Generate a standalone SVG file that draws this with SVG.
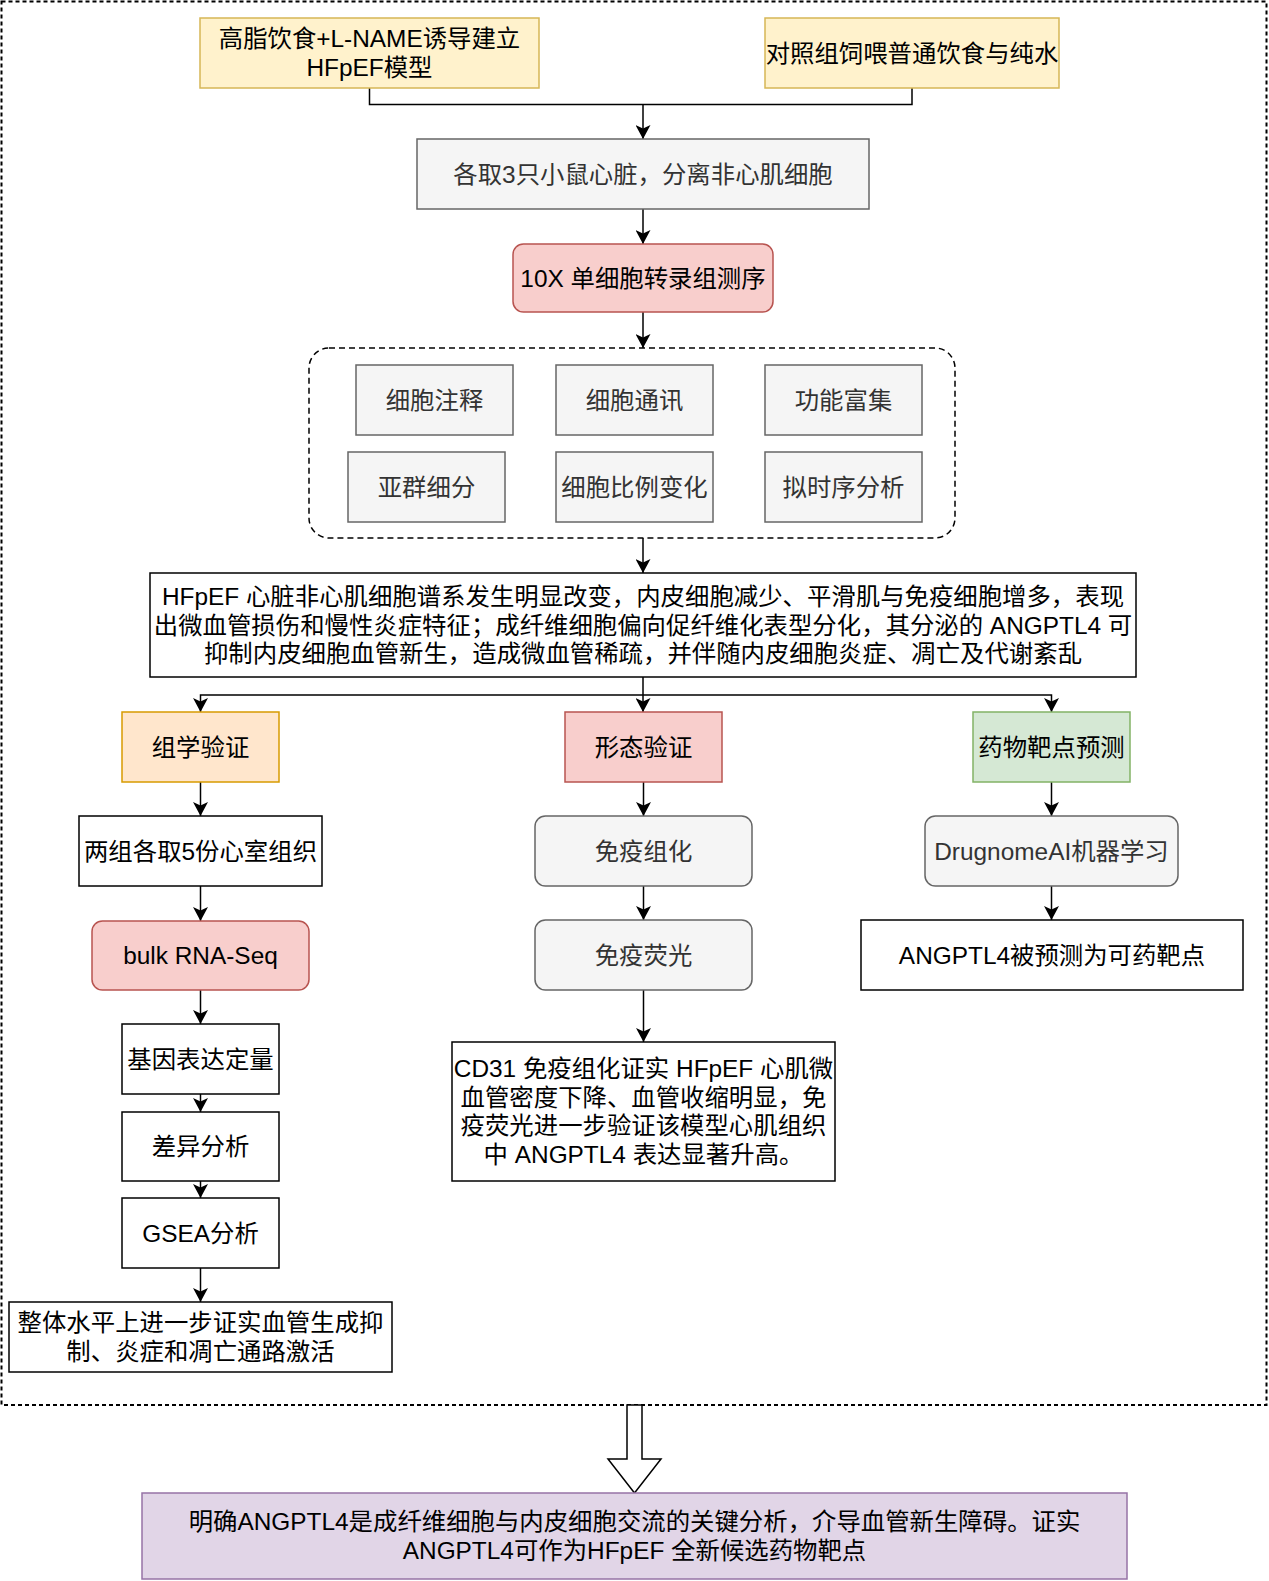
<svg xmlns="http://www.w3.org/2000/svg" width="1269" height="1581" viewBox="0 0 1269 1581">
<defs>
<style>
text{font-family:"Liberation Sans","Noto Sans CJK SC",sans-serif;font-size:24.4px;text-anchor:middle;dominant-baseline:central;fill:#000}
.g text,text.g{fill:#333333}
.yel{fill:#fff2cc;stroke:#d6b656;stroke-width:1.5}
.gray{fill:#f5f5f5;stroke:#666666;stroke-width:1.5}
.red{fill:#f8cecc;stroke:#b85450;stroke-width:1.5}
.org{fill:#ffe6cc;stroke:#d79b00;stroke-width:1.5}
.grn{fill:#d5e8d4;stroke:#82b366;stroke-width:1.5}
.pur{fill:#e1d5e7;stroke:#9673a6;stroke-width:1.5}
.wht{fill:#ffffff;stroke:#000000;stroke-width:1.5}
.edge{fill:none;stroke:#000;stroke-width:1.5}
</style>
<marker id="arr" markerUnits="userSpaceOnUse" markerWidth="15" markerHeight="15" refX="14" refY="7.5" orient="auto" viewBox="0 0 15 15">
<path d="M0,0 L14,7.5 L0,15 L3.5,7.5 Z" fill="#000"/>
</marker>
</defs>
<rect id="frame" x="1.5" y="1.5" width="1265" height="1403.5" fill="none" stroke="#000" stroke-width="2" stroke-dasharray="4 3"/>

<g id="connectors">
<path class="edge" d="M369.5,88 V104.5 H912 V88"/>
<path class="edge" d="M643,104.5 V139" marker-end="url(#arr)"/>
<path class="edge" d="M643,209 V244" marker-end="url(#arr)"/>
<path class="edge" d="M643,312 V348" marker-end="url(#arr)"/>
<path class="edge" d="M643,538 V573" marker-end="url(#arr)"/>
<path class="edge" d="M643,677 V712" marker-end="url(#arr)"/>
<path class="edge" d="M643,695 H200.5 V712" marker-end="url(#arr)"/>
<path class="edge" d="M643,695 H1051.5 V712" marker-end="url(#arr)"/>
<path class="edge" d="M200.5,782 V816" marker-end="url(#arr)"/>
<path class="edge" d="M200.5,886 V921" marker-end="url(#arr)"/>
<path class="edge" d="M200.5,990 V1024" marker-end="url(#arr)"/>
<path class="edge" d="M200.5,1094 V1112" marker-end="url(#arr)"/>
<path class="edge" d="M200.5,1181 V1198" marker-end="url(#arr)"/>
<path class="edge" d="M200.5,1268 V1302" marker-end="url(#arr)"/>
<path class="edge" d="M643.5,782 V816" marker-end="url(#arr)"/>
<path class="edge" d="M643.5,886 V920" marker-end="url(#arr)"/>
<path class="edge" d="M643.5,990 V1042" marker-end="url(#arr)"/>
<path class="edge" d="M1051.5,782 V816" marker-end="url(#arr)"/>
<path class="edge" d="M1051.5,886 V920" marker-end="url(#arr)"/>
<polygon points="627,1405 642,1405 642,1459 661,1459 634.5,1493 608,1459 627,1459" fill="#fff" stroke="#000" stroke-width="1.5"/>
</g>

<g id="n1"><rect class="yel" x="200" y="18" width="339" height="70"/><text x="369.5" y="38.6">高脂饮食+L-NAME诱导建立</text><text x="369.5" y="67.4">HFpEF模型</text></g>
<g id="n2"><rect class="yel" x="765" y="18" width="294" height="70"/><text x="912" y="53">对照组饲喂普通饮食与纯水</text></g>
<g id="n3" class="g"><rect class="gray" x="417" y="139" width="452" height="70"/><text x="643" y="174">各取3只小鼠心脏，分离非心肌细胞</text></g>
<g id="n4"><rect class="red" x="513" y="244" width="260" height="68" rx="10.5"/><text x="643" y="278">10X 单细胞转录组测序</text></g>

<g id="analysis">
<rect x="309" y="348" width="646" height="190" rx="20" fill="none" stroke="#000" stroke-width="1.5" stroke-dasharray="6 4"/>
<g id="a1" class="g"><rect class="gray" x="356" y="365" width="157" height="70"/><text x="434.5" y="400">细胞注释</text></g>
<g id="a2" class="g"><rect class="gray" x="556" y="365" width="157" height="70"/><text x="634.5" y="400">细胞通讯</text></g>
<g id="a3" class="g"><rect class="gray" x="765" y="365" width="157" height="70"/><text x="843.5" y="400">功能富集</text></g>
<g id="a4" class="g"><rect class="gray" x="348" y="452" width="157" height="70"/><text x="426.5" y="487">亚群细分</text></g>
<g id="a5" class="g"><rect class="gray" x="556" y="452" width="157" height="70"/><text x="634.5" y="487">细胞比例变化</text></g>
<g id="a6" class="g"><rect class="gray" x="765" y="452" width="157" height="70"/><text x="843.5" y="487">拟时序分析</text></g>
</g>

<g id="summary"><rect class="wht" x="150" y="573" width="986" height="104"/>
<text x="643" y="596.2">HFpEF 心脏非心肌细胞谱系发生明显改变，内皮细胞减少、平滑肌与免疫细胞增多，表现</text>
<text x="643" y="625">出微血管损伤和慢性炎症特征；成纤维细胞偏向促纤维化表型分化，其分泌的 ANGPTL4 可</text>
<text x="643" y="653.8">抑制内皮细胞血管新生，造成微血管稀疏，并伴随内皮细胞炎症、凋亡及代谢紊乱</text>
</g>

<g id="omics"><rect class="org" x="122" y="712" width="157" height="70"/><text x="200.5" y="747">组学验证</text></g>
<g id="morph"><rect class="red" x="565" y="712" width="157" height="70"/><text x="643.5" y="747">形态验证</text></g>
<g id="drug"><rect class="grn" x="973" y="712" width="157" height="70"/><text x="1051.5" y="747">药物靶点预测</text></g>

<g id="l1"><rect class="wht" x="79" y="816" width="243" height="70"/><text x="200.5" y="851">两组各取5份心室组织</text></g>
<g id="l2"><rect class="red" x="92" y="921" width="217" height="69" rx="10.5"/><text x="200.5" y="955.5">bulk RNA-Seq</text></g>
<g id="l3"><rect class="wht" x="122" y="1024" width="157" height="70"/><text x="200.5" y="1059">基因表达定量</text></g>
<g id="l4"><rect class="wht" x="122" y="1112" width="157" height="69"/><text x="200.5" y="1146.5">差异分析</text></g>
<g id="l5"><rect class="wht" x="122" y="1198" width="157" height="70"/><text x="200.5" y="1233">GSEA分析</text></g>
<g id="l6"><rect class="wht" x="9" y="1302" width="383" height="70"/><text x="200.5" y="1322.6">整体水平上进一步证实血管生成抑</text><text x="200.5" y="1351.4">制、炎症和凋亡通路激活</text></g>

<g id="m1" class="g"><rect class="gray" x="535" y="816" width="217" height="70" rx="10.5"/><text x="643.5" y="851">免疫组化</text></g>
<g id="m2" class="g"><rect class="gray" x="535" y="920" width="217" height="70" rx="10.5"/><text x="643.5" y="955">免疫荧光</text></g>
<g id="m3"><rect class="wht" x="452" y="1042" width="383" height="139"/>
<text x="643.5" y="1068.3">CD31 免疫组化证实 HFpEF 心肌微</text>
<text x="643.5" y="1097.1">血管密度下降、血管收缩明显，免</text>
<text x="643.5" y="1125.9">疫荧光进一步验证该模型心肌组织</text>
<text x="643.5" y="1154.7">中 ANGPTL4 表达显著升高。</text>
</g>

<g id="r1" class="g"><rect class="gray" x="925" y="816" width="253" height="70" rx="10.5"/><text x="1051.5" y="851">DrugnomeAI机器学习</text></g>
<g id="r2"><rect class="wht" x="861" y="920" width="382" height="70"/><text x="1052" y="955">ANGPTL4被预测为可药靶点</text></g>

<g id="conclusion"><rect class="pur" x="142" y="1493" width="985" height="86"/>
<text x="634.5" y="1521.6">明确ANGPTL4是成纤维细胞与内皮细胞交流的关键分析，介导血管新生障碍。证实</text>
<text x="634.5" y="1550.4">ANGPTL4可作为HFpEF 全新候选药物靶点</text>
</g>
</svg>
